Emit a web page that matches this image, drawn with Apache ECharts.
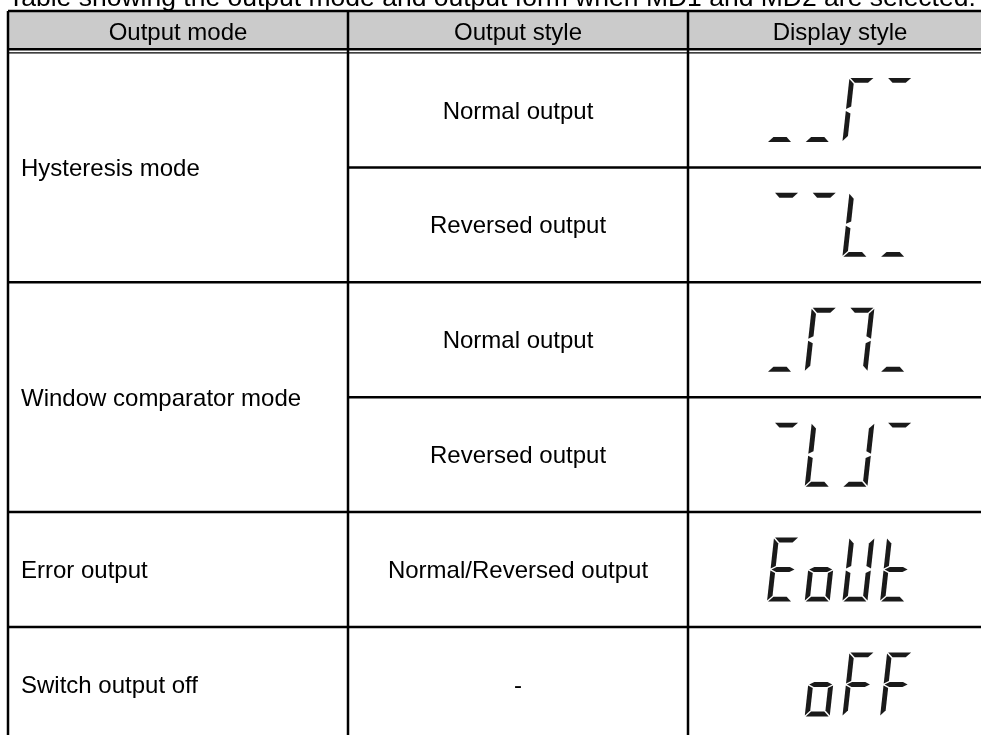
<!DOCTYPE html>
<html>
<head>
<meta charset="utf-8">
<script src="https://cdn.jsdelivr.net/npm/echarts@6/dist/echarts.min.js"></script>
<style>
html,body{margin:0;padding:0;background:#fff;}
#chart{width:981px;height:735px;}
</style>
</head>
<body>
<div id="chart"></div>
<script>
// ---- data ----
const titleText = "Table showing the output mode and output form when MD1 and MD2 are selected.";
const headers = ["Output mode", "Output style", "Display style"];
const modes = ["Hysteresis mode", "Window comparator mode", "Error output", "Switch output off"];
const modeRowSpans = [2, 2, 1, 1];
const styles = ["Normal output", "Reversed output", "Normal output", "Reversed output", "Normal/Reversed output", "-"];
// seven-segment display: one string of lit segments (a-g) per character
const displays = [
  ["d", "d", "aef", "a"],
  ["a", "a", "def", "d"],
  ["d", "aef", "abc", "d"],
  ["a", "def", "bcd", "a"],
  ["adefg", "cdeg", "bcdef", "defg"],
  ["", "cdeg", "aefg", "aefg"]
];

// ---- layout ----
const FONT = '"Liberation Sans", Arial, Helvetica, sans-serif';
const FS = 24;
const colX = [8, 348, 688, 992];
const GRID_TOP = 52.5, ROW_H = 114.9;
const yMax = (735 - GRID_TOP) / ROW_H;
const headerTop = -0.361;
const headerThick = -0.029;
const headerThin = 0.003;
const LW = 2.5;
const INK = '#000';

const modeData = [];
{ let r = 0; modes.forEach((m, i) => { modeData.push([r, modeRowSpans[i], m]); r += modeRowSpans[i]; }); }
const modeBounds = new Set(); { let r = 0; modeRowSpans.forEach(s => { r += s; modeBounds.add(r); }); }
const nRows = styles.length;

const ruleData = [];
ruleData.push([colX[0], headerTop, colX[3], headerTop, LW]);
ruleData.push([colX[0], headerThick, colX[3], headerThick, LW]);
ruleData.push([colX[0], headerThin, colX[3], headerThin, 1.4]);
for (let r = 1; r < nRows + 1; r++) {
  ruleData.push([modeBounds.has(r) ? colX[0] : colX[1], r, colX[3], r, LW]);
}
for (let c = 0; c < colX.length; c++) ruleData.push([colX[c], headerTop, colX[c], nRows, LW]);

function segPolys(segs, W, H, t, g) {
  const m = H / 2;
  const P = {
    a: [[g, H], [W - g, H], [W - g - t, H - t], [g + t, H - t]],
    d: [[g, 0], [W - g, 0], [W - g - t, t], [g + t, t]],
    g: [[g, m], [g + t, m + t / 2], [W - g - t, m + t / 2], [W - g, m], [W - g - t, m - t / 2], [g + t, m - t / 2]],
    f: [[0, H - g], [t, H - g - t], [t, m + g + t / 2], [0, m + g]],
    e: [[0, g], [t, g + t], [t, m - g - t / 2], [0, m - g]],
    b: [[W, H - g], [W - t, H - g - t], [W - t, m + g + t / 2], [W, m + g]],
    c: [[W, g], [W - t, g + t], [W - t, m - g - t / 2], [W, m - g]]
  };
  return segs.split('').map(s => P[s]);
}

const chart = echarts.init(document.getElementById('chart'), null, { renderer: 'canvas' });
chart.setOption({
  animation: false,
  backgroundColor: '#fff',
  title: {
    text: titleText, left: 8, top: -15, padding: 0,
    textStyle: { fontFamily: FONT, fontSize: 26.5, fontWeight: 'normal', color: INK }
  },
  grid: { left: 0, right: 0, top: GRID_TOP, bottom: 0 },
  xAxis: { type: 'value', min: 0, max: 981, show: false },
  yAxis: { type: 'value', min: 0, max: yMax, inverse: true, show: false },
  series: [
    {
      type: 'custom', name: 'header', silent: true, clip: false,
      data: headers.map((h, i) => [i, h]),
      renderItem: function (params, api) {
        const i = api.value(0);
        const p0 = api.coord([colX[i], headerTop]);
        const p1 = api.coord([colX[i + 1], headerThick]);
        return {
          type: 'group', children: [
            { type: 'rect', shape: { x: p0[0], y: p0[1], width: p1[0] - p0[0], height: p1[1] - p0[1] }, style: { fill: '#cbcbcb' } },
            { type: 'text', style: { text: headers[i], x: (p0[0] + p1[0]) / 2, y: (p0[1] + p1[1]) / 2 + 3, fill: INK, fontFamily: FONT, fontSize: FS, align: 'center', verticalAlign: 'middle' } }
          ]
        };
      }
    },
    {
      type: 'custom', name: 'modes', silent: true, clip: false,
      data: modeData,
      renderItem: function (params, api) {
        const d = modeData[params.dataIndex];
        const p = api.coord([colX[0], d[0] + d[1] / 2]);
        return { type: 'text', style: { text: d[2], x: p[0] + 13, y: p[1] + 2, fill: INK, fontFamily: FONT, fontSize: FS, align: 'left', verticalAlign: 'middle' } };
      }
    },
    {
      type: 'custom', name: 'styles', silent: true, clip: false,
      data: styles.map((s, i) => [i, s]),
      renderItem: function (params, api) {
        const r = api.value(0);
        const p = api.coord([(colX[1] + colX[2]) / 2, r + 0.5]);
        return { type: 'text', style: { text: styles[r], x: p[0], y: p[1] + 2, fill: INK, fontFamily: FONT, fontSize: FS, align: 'center', verticalAlign: 'middle' } };
      }
    },
    {
      type: 'custom', name: 'display', silent: true, clip: false,
      data: displays.map((d, i) => [i]),
      renderItem: function (params, api) {
        const r = api.value(0);
        const c = api.coord([(colX[2] + colX[3]) / 2, r + 0.5]);
        const W = 25, H = 64, t = 4.9, g = 1, slant = 0.11, pitch = 37.7;
        const children = [];
        displays[r].forEach((segs, k) => {
          const ox = c[0] - 73 + k * pitch, oy = c[1] + H / 2;
          segPolys(segs, W, H, t, g).forEach(poly => {
            children.push({
              type: 'polygon',
              shape: { points: poly.map(q => [ox + q[0] + q[1] * slant, oy - q[1]]) },
              style: { fill: '#1a1a1a' }
            });
          });
        });
        return { type: 'group', children: children };
      }
    },
    {
      type: 'custom', name: 'rules', silent: true, clip: false,
      data: ruleData,
      renderItem: function (params, api) {
        const p0 = api.coord([api.value(0), api.value(1)]);
        const p1 = api.coord([api.value(2), api.value(3)]);
        return { type: 'line', shape: { x1: p0[0], y1: p0[1], x2: p1[0], y2: p1[1] }, style: { stroke: INK, lineWidth: api.value(4) } };
      }
    }
  ]
});
</script>
</body>
</html>
